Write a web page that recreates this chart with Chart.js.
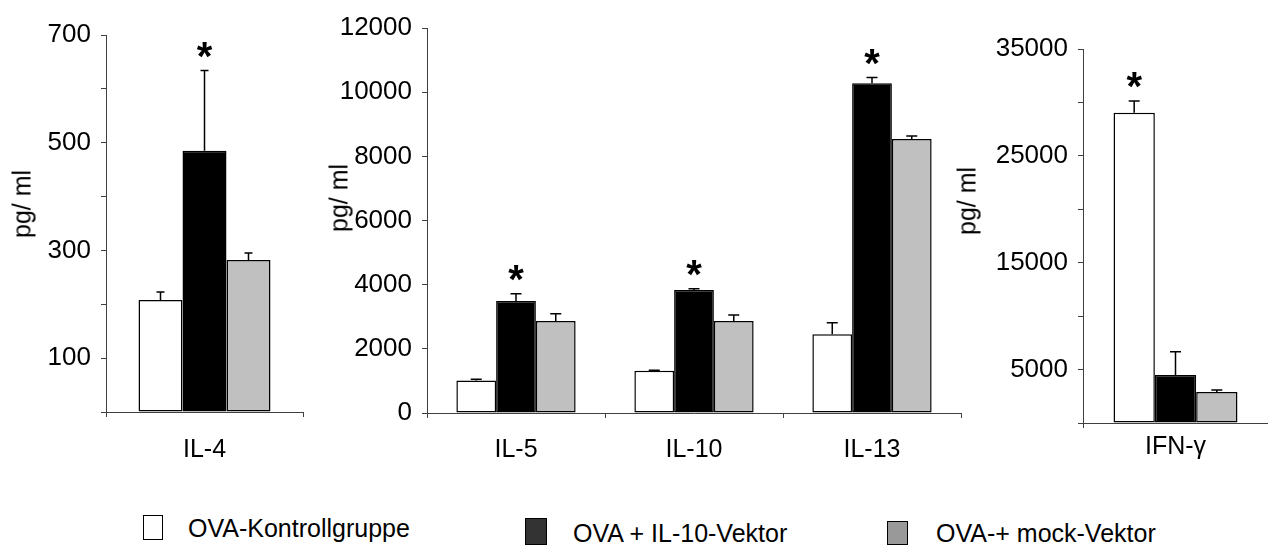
<!DOCTYPE html>
<html>
<head>
<meta charset="utf-8">
<script src="https://cdn.jsdelivr.net/npm/chart.js@4.4.1/dist/chart.umd.min.js"></script>
<style>
  body { margin: 0; background: #fff; }
  #wrap { position: relative; width: 1268px; height: 545px; overflow: hidden; font-family: 'Liberation Sans', Arial, sans-serif; color: #000; }
  canvas { position: absolute; top: 0; }
  .ytitle { position: absolute; font-size: 25px; line-height: 25px; white-space: nowrap; transform: translate(-50%, -50%) rotate(-90deg); }
  .lgbox { position: absolute; box-sizing: border-box; border: 1.5px solid #000; }
  .lgtext { position: absolute; font-size: 25px; line-height: 25px; white-space: nowrap; }
</style>
</head>
<body>
<div id="wrap">
  <canvas id="chartA" width="310" height="480" style="left:0px"></canvas>
  <canvas id="chartB" width="665" height="480" style="left:300px"></canvas>
  <canvas id="chartC" width="303" height="480" style="left:965px"></canvas>

  <div class="ytitle" style="left:22px; top:204px">pg/ ml</div>
  <div class="ytitle" style="left:339px; top:198px">pg/ ml</div>
  <div class="ytitle" style="left:967px; top:201px">pg/ ml</div>

  <div class="lgbox" style="left:143px; top:515px; width:20px; height:25px; background:#fff"></div>
  <div class="lgtext" id="lg0" style="left:188px; top:516px"></div>
  <div class="lgbox" style="left:525px; top:518px; width:22px; height:27px; background:#333"></div>
  <div class="lgtext" id="lg1" style="left:573px; top:521px"></div>
  <div class="lgbox" style="left:887px; top:521px; width:21px; height:24px; background:#999"></div>
  <div class="lgtext" id="lg2" style="left:936px; top:521px"></div>
</div>
<script>
// groups (legend)
const groups = ['OVA-Kontrollgruppe', 'OVA + IL-10-Vektor', 'OVA-+ mock-Vektor'];

// panel A: IL-4
const cytokinesA = ['IL-4'];
const kontrollA = [208];
const vektorA = [485];
const mockA = [282];
const kontrollA_sem = [15];
const vektorA_sem = [149];
const mockA_sem = [13];
const starsA = [1];            // index of the group marked with *
const tickLabelsA = [100, 300, 500, 700];

// panel B: IL-5, IL-10, IL-13
const cytokinesB = ['IL-5', 'IL-10', 'IL-13'];
const kontrollB = [1010, 1320, 2455];
const vektorB = [3490, 3835, 10280];
const mockB = [2870, 2870, 8540];
const kontrollB_sem = [40, 15, 360];
const vektorB_sem = [230, 40, 175];
const mockB_sem = [225, 185, 95];
const starsB = [1, 1, 1];
const tickLabelsB = [0, 2000, 4000, 6000, 8000, 10000, 12000];

// panel C: IFN-γ
const cytokinesC = ['IFN-γ'];
const kontrollC = [29040];
const vektorC = [4490];
const mockC = [2900];
const kontrollC_sem = [1090];
const vektorC_sem = [2180];
const mockC_sem = [190];
const starsC = [0];
const tickLabelsC = [5000, 15000, 25000, 35000];

const barColors = ['#ffffff', '#000000', '#c0c0c0'];
const axisColor = '#404040';

Chart.defaults.font.family = "'Liberation Sans', Arial, sans-serif";
Chart.defaults.font.size = 26;
Chart.defaults.color = '#000';

groups.forEach((g, i) => { document.getElementById('lg' + i).textContent = g; });

// upper error bars + significance stars
function makeErrorPlugin(sems, stars, cap) {
    return {
        id: 'errorBars',
        afterDatasetsDraw(chart) {
            const ctx = chart.ctx;
            const y = chart.scales.y;
            ctx.save();
            ctx.strokeStyle = '#000';
            ctx.lineWidth = 1.5;
            chart.data.datasets.forEach((ds, di) => {
                chart.getDatasetMeta(di).data.forEach((bar, i) => {
                    const top = y.getPixelForValue(ds.data[i] + sems[di][i]);
                    ctx.beginPath();
                    ctx.moveTo(bar.x, bar.y);
                    ctx.lineTo(bar.x, top);
                    ctx.moveTo(bar.x - cap / 2, top);
                    ctx.lineTo(bar.x + cap / 2, top);
                    ctx.stroke();
                });
            });
            ctx.fillStyle = '#000';
            ctx.font = "bold 40px 'Liberation Sans', Arial, sans-serif";
            ctx.textAlign = 'center';
            ctx.textBaseline = 'alphabetic';
            stars.forEach((di, i) => {
                if (di < 0) return;
                const bar = chart.getDatasetMeta(di).data[i];
                const ds = chart.data.datasets[di];
                const top = y.getPixelForValue(ds.data[i] + sems[di][i]);
                ctx.fillText('*', bar.x, top - 24 + 23);
            });
            ctx.restore();
        }
    };
}

function makeChart(id, labels, series, sems, stars, yMax, yStep, shown, yWidth, xPad, padding, cap) {
    return new Chart(document.getElementById(id), {
        type: 'bar',
        data: {
            labels: labels,
            datasets: series.map((d, i) => ({
                label: groups[i],
                data: d,
                backgroundColor: barColors[i],
                borderColor: '#000',
                borderWidth: 1.5,
                borderSkipped: false,
                barPercentage: 1.0,
                categoryPercentage: 0.67
            }))
        },
        options: {
            responsive: false,
            animation: false,
            events: [],
            layout: { padding: padding },
            plugins: {
                legend: { display: false },
                tooltip: { enabled: false }
            },
            scales: {
                x: {
                    afterFit: (s) => { s.height = 50; },
                    border: { display: true, color: axisColor, width: 1 },
                    grid: { display: true, drawOnChartArea: false, drawTicks: true, tickLength: 5, color: axisColor, offset: true },
                    ticks: { padding: xPad, color: '#000', font: { size: 25 } }
                },
                y: {
                    min: 0,
                    max: yMax,
                    afterFit: (s) => { s.width = yWidth; },
                    border: { display: true, color: axisColor, width: 1 },
                    grid: { display: true, drawOnChartArea: false, drawTicks: true, tickLength: 5, color: axisColor },
                    ticks: {
                        stepSize: yStep,
                        padding: 10,
                        color: '#000',
                        callback: (v) => shown.includes(v) ? String(v) : ''
                    }
                }
            }
        },
        plugins: [makeErrorPlugin(sems, stars, cap)]
    });
}

makeChart('chartA', cytokinesA, [kontrollA, vektorA, mockA],
    [kontrollA_sem, vektorA_sem, mockA_sem], starsA,
    700, 100, tickLabelsA, 106, 18, { left: 0, right: 7, top: 35, bottom: 18 }, 8);

makeChart('chartB', cytokinesB, [kontrollB, vektorB, mockB],
    [kontrollB_sem, vektorB_sem, mockB_sem], starsB,
    12000, 2000, tickLabelsB, 127, 17, { left: 0, right: 4, top: 28, bottom: 17 }, 11);

makeChart('chartC', cytokinesC, [kontrollC, vektorC, mockC],
    [kontrollC_sem, vektorC_sem, mockC_sem], starsC,
    35000, 5000, tickLabelsC, 118, 4, { left: 0, right: 0, top: 49, bottom: 7 }, 11);
</script>
</body>
</html>
